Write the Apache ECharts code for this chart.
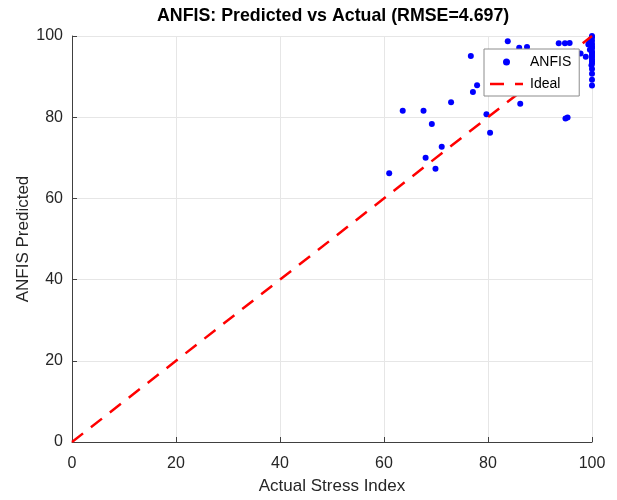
<!DOCTYPE html>
<html>
<head>
<meta charset="utf-8">
<script src="https://cdn.jsdelivr.net/npm/echarts@6/dist/echarts.min.js"></script>
<style>
  html, body { margin: 0; padding: 0; background: #fff; }
  #chart { width: 617px; height: 500px; }
</style>
</head>
<body>
<div id="chart"></div>
<script>
// ANFIS predicted vs actual
var actualX = [
  83.8, 86.0, 87.5, 93.6, 94.8, 95.7, 76.7, 97.8, 98.8,
  77.9, 77.1, 72.9, 63.6, 67.6, 86.2, 79.7, 94.9, 95.3,
  69.2, 80.4, 71.1, 68.0, 69.9, 61.0,
  100, 100, 99.8, 100, 99.5, 100, 99.3, 100, 100, 99.6,
  100, 100, 100, 100, 100, 100, 100, 99.9, 100, 100, 100, 100
];
var predictedY = [
  98.7, 97.1, 97.3, 98.2, 98.2, 98.3, 95.1, 95.7, 94.9,
  87.9, 86.2, 83.7, 81.6, 81.6, 83.3, 80.7, 79.7, 79.9,
  78.3, 76.2, 72.7, 70.0, 67.3, 66.2,
  100, 99.6, 99.2, 98.8, 98.4, 98.0, 97.9, 97.4, 97.0, 96.6,
  96.2, 95.8, 95.3, 94.8, 94.3, 93.8, 93.2, 92.8, 91.9, 90.7, 89.2, 87.8
];
var idealX = [0, 100];
var idealY = [0, 100];
var axisTicks = [0, 20, 40, 60, 80, 100];

var scatterData = [];
for (var i = 0; i < actualX.length; i++) {
    scatterData.push([actualX[i], predictedY[i]]);
}
var idealData = [];
for (var i = 0; i < idealX.length; i++) {
    idealData.push([idealX[i], idealY[i]]);
}

var myChart = echarts.init(document.getElementById('chart'), null, { renderer: 'canvas' });

var axisCommon = {
    type: 'value',
    min: axisTicks[0],
    max: axisTicks[axisTicks.length - 1],
    interval: 20,
    nameLocation: 'middle',
    nameTextStyle: { fontSize: 17, color: '#262626', fontFamily: 'Liberation Sans' },
    axisLine: { show: true, lineStyle: { color: '#404040', width: 1 } },
    axisTick: { show: true, inside: true, length: 5, lineStyle: { color: '#404040' } },
    axisLabel: { fontSize: 16, color: '#262626', fontFamily: 'Liberation Sans' },
    splitLine: { show: true, lineStyle: { color: '#e6e6e6', width: 1 } }
};

// two short dashes for the "Ideal" legend key (tiny corner specks fix the 33x7 box)
var dashIcon = 'path://M0,0h0.05v0.05h-0.05z M33,7h-0.05v-0.05h0.05z ' +
    'M0,2.25h14v2.5h-14z M25,2.25h8v2.5h-8z';

var option = {
    animation: false,
    backgroundColor: '#ffffff',
    title: {
        text: 'ANFIS: Predicted vs Actual (RMSE=4.697)',
        left: 152,
        top: 2,
        textStyle: { fontSize: 17.8, fontWeight: 'bold', color: '#000', fontFamily: 'Liberation Sans' }
    },
    grid: { left: 72, right: 25, top: 36, bottom: 56, containLabel: false },
    legend: {
        orient: 'vertical',
        left: 484,
        top: 49,
        padding: [6, 8, 5, 6],
        itemGap: 8,
        itemWidth: 33,
        itemHeight: 7,
        backgroundColor: '#fff',
        borderColor: '#8c8c8c',
        borderWidth: 1,
        textStyle: { fontSize: 14, lineHeight: 14, color: '#000', fontFamily: 'Liberation Sans', padding: [0, 0, 0, 2] },
        data: [
            { name: 'ANFIS', icon: 'circle' },
            { name: 'Ideal', icon: dashIcon }
        ]
    },
    xAxis: Object.assign({}, axisCommon, {
        name: 'Actual Stress Index',
        nameGap: 36,
        axisLabel: Object.assign({}, axisCommon.axisLabel, { margin: 14 })
    }),
    yAxis: Object.assign({}, axisCommon, {
        name: 'ANFIS Predicted',
        nameGap: 40,
        nameMoveOverlap: false,
        axisLabel: Object.assign({}, axisCommon.axisLabel, { margin: 9 })
    }),
    series: [
        {
            name: 'ANFIS',
            type: 'scatter',
            symbol: 'circle',
            symbolSize: 6,
            itemStyle: { color: '#0000ff', opacity: 1 },
            z: 2,
            data: scatterData
        },
        {
            name: 'Ideal',
            type: 'line',
            symbol: 'none',
            lineStyle: { color: '#ff0000', width: 2.5, type: [14, 10] },
            itemStyle: { color: '#ff0000' },
            z: 3,
            data: idealData
        }
    ]
};

myChart.setOption(option);
window.onresize = function () {
    myChart.resize();
};
</script>
</body>
</html>
